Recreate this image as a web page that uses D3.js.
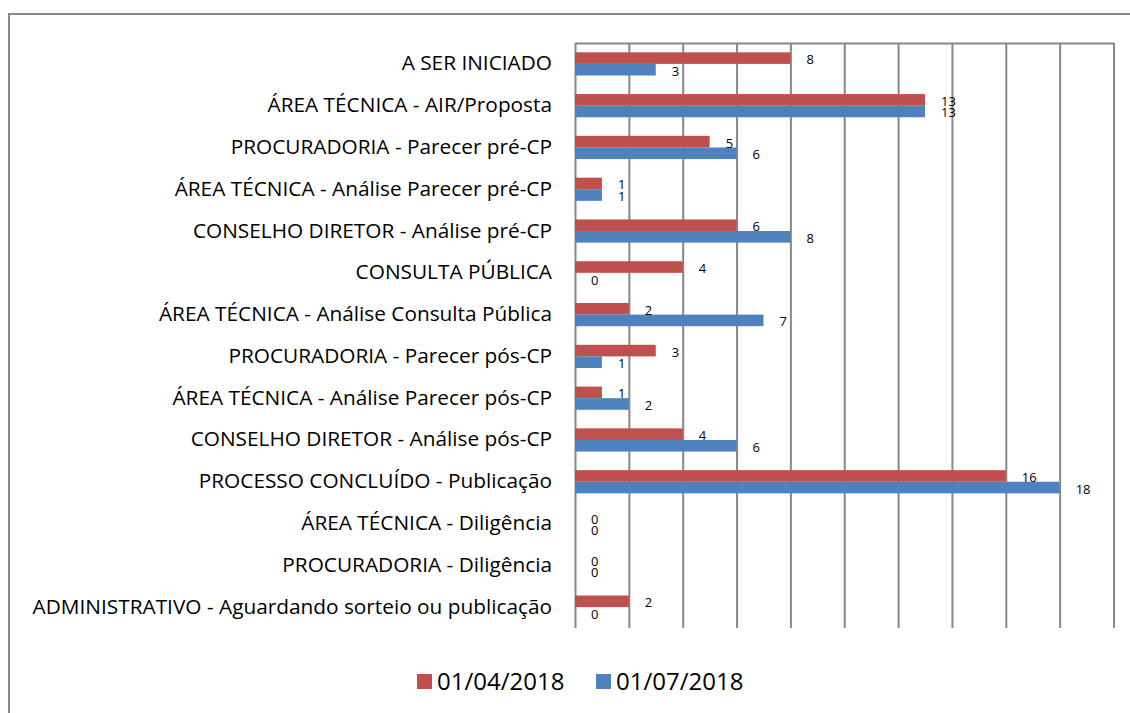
<!DOCTYPE html>
<html>
<head>
<meta charset="utf-8">
<script src="https://cdn.jsdelivr.net/npm/d3@7"></script>
<style>
  body { margin: 0; background: #fff; }
  text { font-family: "Open Sans", "Noto Sans", sans-serif; fill: #000; }
</style>
</head>
<body>
<div id="bar-chart"></div>
<script>
const categories = [
    "A SER INICIADO",
    "ÁREA TÉCNICA - AIR/Proposta",
    "PROCURADORIA - Parecer pré-CP",
    "ÁREA TÉCNICA - Análise Parecer pré-CP",
    "CONSELHO DIRETOR - Análise pré-CP",
    "CONSULTA PÚBLICA",
    "ÁREA TÉCNICA - Análise Consulta Pública",
    "PROCURADORIA - Parecer pós-CP",
    "ÁREA TÉCNICA - Análise Parecer pós-CP",
    "CONSELHO DIRETOR - Análise pós-CP",
    "PROCESSO CONCLUÍDO - Publicação",
    "ÁREA TÉCNICA - Diligência",
    "PROCURADORIA - Diligência",
    "ADMINISTRATIVO - Aguardando sorteio ou publicação"
];
const seriesNames = ["01/04/2018", "01/07/2018"];
const april = [8, 13, 5, 1, 6, 4, 2, 3, 1, 4, 16, 0, 0, 2];
const july = [3, 13, 6, 1, 8, 0, 7, 1, 2, 6, 18, 0, 0, 0];
const xTicks = [0, 2, 4, 6, 8, 10, 12, 14, 16, 18, 20];

const drawBarChart = () => {
    const width = 1130;
    const height = 713;
    const margin = { top: 43, right: 16.5, bottom: 85, left: 575 };
    const innerWidth = width - margin.left - margin.right;
    const innerHeight = height - margin.top - margin.bottom;
    const red = "#C0504D";
    const blue = "#4F81BD";
    const gridColor = "#888888";

    const svg = d3.select("#bar-chart")
        .append("svg")
        .attr("width", width)
        .attr("height", height)
        .attr("viewBox", `0, 0, ${width}, ${height}`);

    // outer chart border (runs off the right and bottom edges)
    svg.append("rect")
        .attr("x", 9)
        .attr("y", 14)
        .attr("width", width)
        .attr("height", height)
        .attr("fill", "none")
        .attr("stroke", gridColor)
        .attr("stroke-width", 2);

    const innerChart = svg.append("g")
        .attr("transform", `translate(${margin.left}, ${margin.top})`);

    const xScale = d3.scaleLinear()
        .domain([0, 20])
        .range([0, innerWidth]);

    const yScale = d3.scaleBand()
        .domain(categories)
        .range([0, innerHeight])
        .paddingInner(0.445)
        .paddingOuter(0.2225);

    const ySeries = d3.scaleBand()
        .domain(seriesNames)
        .range([0, yScale.bandwidth()]);

    // vertical gridlines + top value axis (no labels)
    const topAxis = d3.axisTop(xScale)
        .tickValues(xTicks)
        .tickSize(-innerHeight)
        .tickSizeOuter(0)
        .tickFormat("");

    innerChart.append("g")
        .attr("class", "axis-x")
        .call(topAxis)
        .call(g => g.selectAll("line, path")
            .attr("stroke", gridColor)
            .attr("stroke-width", 2));

    // category labels
    innerChart.append("g")
        .attr("class", "axis-y")
        .selectAll("text")
        .data(categories)
        .join("text")
        .attr("x", -23)
        .attr("y", d => yScale(d) + yScale.bandwidth() / 2 + 6.5)
        .attr("text-anchor", "end")
        .attr("font-size", "20.8px")
        .text(d => d);

    const rows = categories.map((c, i) => ({
        category: c,
        values: [
            { series: seriesNames[0], value: april[i], color: red },
            { series: seriesNames[1], value: july[i], color: blue }
        ]
    }));

    const groups = innerChart.selectAll(".row")
        .data(rows)
        .join("g")
        .attr("class", "row")
        .attr("transform", d => `translate(0, ${yScale(d.category)})`);

    groups.selectAll("rect")
        .data(d => d.values)
        .join("rect")
        .attr("x", xScale(0))
        .attr("y", d => ySeries(d.series))
        .attr("width", d => xScale(d.value) - xScale(0))
        .attr("height", ySeries.bandwidth())
        .attr("fill", d => d.color);

    groups.selectAll(".label")
        .data(d => d.values)
        .join("text")
        .attr("class", "label")
        .attr("x", d => xScale(d.value) + 16)
        .attr("y", d => ySeries(d.series) + ySeries.bandwidth() / 2 + 6)
        .attr("font-size", "13px")
        .text(d => d.value);

    // legend
    const legendItems = [
        { name: seriesNames[0], color: red, x: 417 },
        { name: seriesNames[1], color: blue, x: 596 }
    ];
    const legend = svg.append("g")
        .selectAll("g")
        .data(legendItems)
        .join("g")
        .attr("transform", d => `translate(${d.x}, 674)`);

    legend.append("rect")
        .attr("width", 15)
        .attr("height", 15)
        .attr("fill", d => d.color);

    legend.append("text")
        .attr("x", 20)
        .attr("y", 16)
        .attr("font-size", "24px")
        .text(d => d.name);
};

drawBarChart();
</script>
</body>
</html>
